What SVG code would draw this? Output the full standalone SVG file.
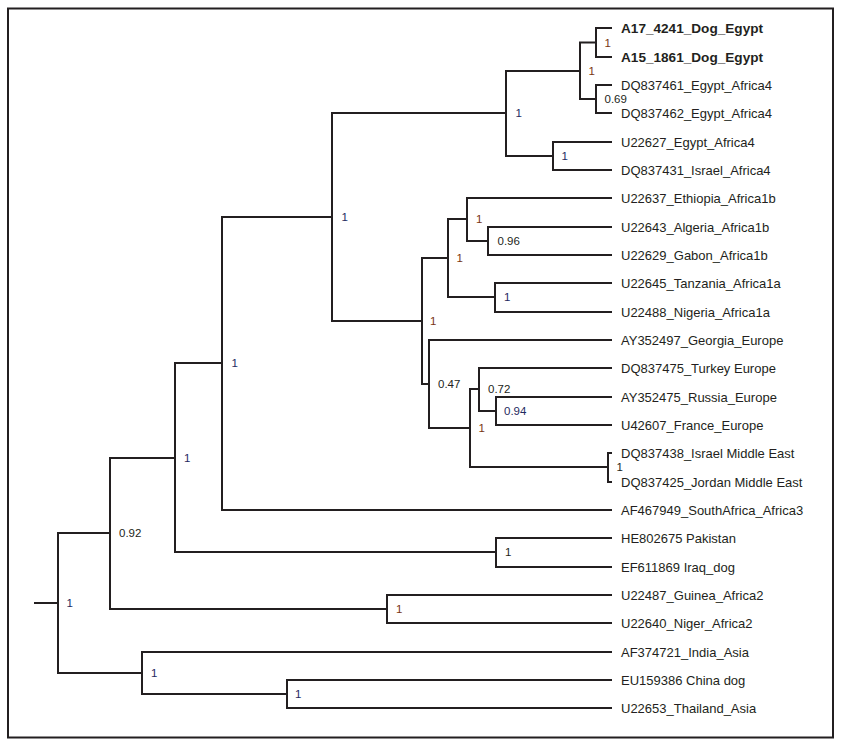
<svg xmlns="http://www.w3.org/2000/svg" width="842" height="745" viewBox="0 0 842 745">
<style>
.e{fill:none;stroke:#231f20;stroke-width:2;stroke-linejoin:miter;stroke-linecap:butt}
.lf{font-family:"Liberation Sans",Arial,sans-serif;font-size:13px;fill:#231f20}
.bd{font-weight:bold;font-size:13.6px}
.s{font-family:"Liberation Sans",Arial,sans-serif;font-size:11.5px}
.r{fill:#7a3512}
.b{fill:#1f2a60}
.k{fill:#231f20}
</style>
<rect x="8" y="8.5" width="825" height="729" fill="#fff" stroke="#231f20" stroke-width="2"/>
<g id="connectors">
<path class="e" d="M612 28 H596 V57 H612"/>
<path class="e" d="M612 85 H596 V113 H612"/>
<path class="e" d="M596 42.5 H580 V99 H596"/>
<path class="e" d="M612 142 H553 V170 H612"/>
<path class="e" d="M580 71 H506 V156 H553"/>
<path class="e" d="M612 227 H488 V255 H612"/>
<path class="e" d="M612 198 H467 V241 H488"/>
<path class="e" d="M612 283 H495 V312 H612"/>
<path class="e" d="M467 219 H448 V297 H495"/>
<path class="e" d="M612 397 H496 V425 H612"/>
<path class="e" d="M612 368 H479 V411 H496"/>
<path class="e" d="M612 453 H608 V482 H612"/>
<path class="e" d="M479 389 H470 V467 H608"/>
<path class="e" d="M612 340 H429 V428 H470"/>
<path class="e" d="M448 258 H422 V384 H429"/>
<path class="e" d="M506 113 H332 V321 H422"/>
<path class="e" d="M332 217 H222 V510 H612"/>
<path class="e" d="M612 538 H496 V567 H612"/>
<path class="e" d="M222 363 H175 V552 H496"/>
<path class="e" d="M612 595 H387 V623 H612"/>
<path class="e" d="M175 458 H110 V609 H387"/>
<path class="e" d="M612 680 H287 V708 H612"/>
<path class="e" d="M612 652 H142 V694 H287"/>
<path class="e" d="M110 533 H58 V673 H142"/>
<path class="e" d="M34 603 H58"/>
</g>
<g id="leaf1"><text class="lf bd" x="621" y="33.2">A17_4241_Dog_Egypt</text></g>
<g id="leaf2"><text class="lf bd" x="621" y="62.2">A15_1861_Dog_Egypt</text></g>
<g id="leaf3"><text class="lf" x="621" y="89.6">DQ837461_Egypt_Africa4</text></g>
<g id="leaf4"><text class="lf" x="621" y="117.6">DQ837462_Egypt_Africa4</text></g>
<g id="leaf5"><text class="lf" x="621" y="146.6">U22627_Egypt_Africa4</text></g>
<g id="leaf6"><text class="lf" x="621" y="174.6">DQ837431_Israel_Africa4</text></g>
<g id="leaf7"><text class="lf" x="621" y="202.6">U22637_Ethiopia_Africa1b</text></g>
<g id="leaf8"><text class="lf" x="621" y="231.6">U22643_Algeria_Africa1b</text></g>
<g id="leaf9"><text class="lf" x="621" y="259.6">U22629_Gabon_Africa1b</text></g>
<g id="leaf10"><text class="lf" x="621" y="287.6">U22645_Tanzania_Africa1a</text></g>
<g id="leaf11"><text class="lf" x="621" y="316.6">U22488_Nigeria_Africa1a</text></g>
<g id="leaf12"><text class="lf" x="621" y="344.6">AY352497_Georgia_Europe</text></g>
<g id="leaf13"><text class="lf" x="621" y="372.6">DQ837475_Turkey Europe</text></g>
<g id="leaf14"><text class="lf" x="621" y="401.6">AY352475_Russia_Europe</text></g>
<g id="leaf15"><text class="lf" x="621" y="429.6">U42607_France_Europe</text></g>
<g id="leaf16"><text class="lf" x="621" y="457.6">DQ837438_Israel Middle East</text></g>
<g id="leaf17"><text class="lf" x="621" y="486.6">DQ837425_Jordan Middle East</text></g>
<g id="leaf18"><text class="lf" x="621" y="514.6">AF467949_SouthAfrica_Africa3</text></g>
<g id="leaf19"><text class="lf" x="621" y="542.6">HE802675 Pakistan</text></g>
<g id="leaf20"><text class="lf" x="621" y="571.6">EF611869 Iraq_dog</text></g>
<g id="leaf21"><text class="lf" x="621" y="599.6">U22487_Guinea_Africa2</text></g>
<g id="leaf22"><text class="lf" x="621" y="627.6">U22640_Niger_Africa2</text></g>
<g id="leaf23"><text class="lf" x="621" y="656.6">AF374721_India_Asia</text></g>
<g id="leaf24"><text class="lf" x="621" y="684.6">EU159386 China dog</text></g>
<g id="leaf25"><text class="lf" x="621" y="712.6">U22653_Thailand_Asia</text></g>
<g id="n1"><text class="s r" x="604.5" y="46.5">1</text></g>
<g id="n2"><text class="s k" x="604.5" y="103">0.69</text></g>
<g id="n3"><text class="s r" x="588.5" y="75">1</text></g>
<g id="n4"><text class="s b" x="561.5" y="160">1</text></g>
<g id="n5"><text class="s b" x="515.5" y="117">1</text></g>
<g id="n6"><text class="s k" x="497.5" y="245">0.96</text></g>
<g id="n7"><text class="s r" x="476" y="223">1</text></g>
<g id="n8"><text class="s b" x="504" y="301">1</text></g>
<g id="n9"><text class="s r" x="456.5" y="262">1</text></g>
<g id="n10"><text class="s b" x="504" y="415">0.94</text></g>
<g id="n11"><text class="s k" x="488" y="393">0.72</text></g>
<g id="n12"><text class="s k" x="616.5" y="471">1</text></g>
<g id="n13"><text class="s r" x="478.5" y="432">1</text></g>
<g id="n14"><text class="s k" x="438" y="387.5">0.47</text></g>
<g id="n15"><text class="s r" x="430" y="325">1</text></g>
<g id="n16"><text class="s b" x="341.5" y="221">1</text></g>
<g id="n17"><text class="s b" x="231.5" y="367">1</text></g>
<g id="n18"><text class="s k" x="505" y="556">1</text></g>
<g id="n19"><text class="s b" x="184" y="462">1</text></g>
<g id="n20"><text class="s r" x="396" y="613">1</text></g>
<g id="n21"><text class="s k" x="119" y="537">0.92</text></g>
<g id="n22"><text class="s b" x="295" y="698">1</text></g>
<g id="n23"><text class="s b" x="151" y="677">1</text></g>
<g id="root"><text class="s b" x="66.5" y="607">1</text></g>
</svg>
